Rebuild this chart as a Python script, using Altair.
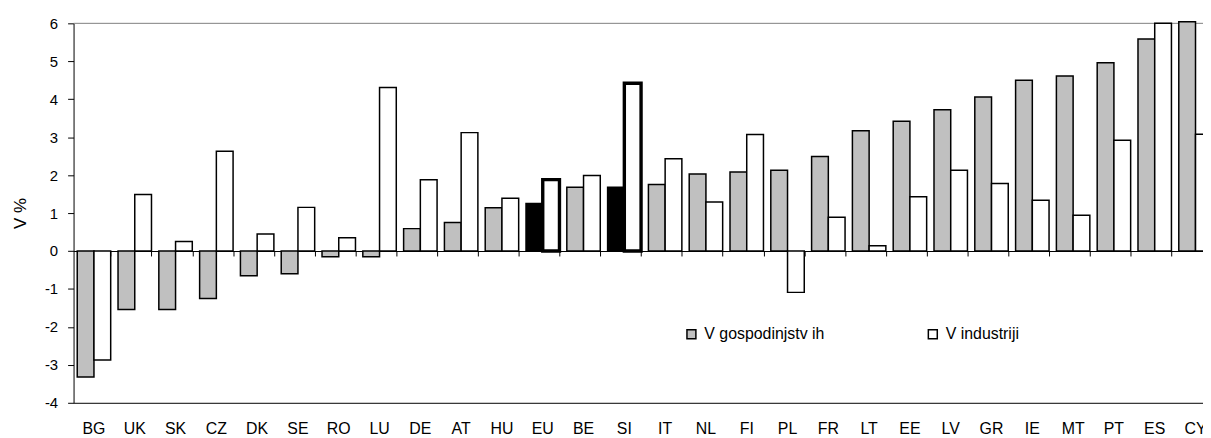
import altair as alt
import pandas as pd

countries = ["BG", "UK", "SK", "CZ", "DK", "SE", "RO", "LU", "DE", "AT", "HU", "EU", "BE", "SI",
             "IT", "NL", "FI", "PL", "FR", "LT", "EE", "LV", "GR", "IE", "MT", "PT", "ES", "CY"]
households = [-3.32, -1.54, -1.54, -1.25, -0.65, -0.60, -0.15, -0.15, 0.59, 0.75, 1.14, 1.25, 1.68, 1.68,
              1.75, 2.03, 2.08, 2.13, 2.49, 3.17, 3.42, 3.72, 4.06, 4.50, 4.61, 4.96, 5.59, 6.04]
industry = [-2.87, 1.49, 0.25, 2.63, 0.45, 1.15, 0.35, 4.31, 1.88, 3.12, 1.39, 1.88, 1.99, 4.42,
            2.43, 1.29, 3.07, -1.09, 0.89, 0.14, 1.43, 2.13, 1.78, 1.34, 0.94, 2.92, 6.00, 3.08]
series_names = ["V gospodinjstv ih", "V industriji"]
series_colors = ["#C0C0C0", "#FFFFFF"]
highlighted = ["EU", "SI"]
y_ticks = list(range(-4, 7))
y_domain = [-4, 6]

rows = []
for c, h, i in zip(countries, households, industry):
    rows.append({"country": c, "series": series_names[0], "value": h, "hl": c in highlighted})
    rows.append({"country": c, "series": series_names[1], "value": i, "hl": c in highlighted})
df = pd.DataFrame(rows)

FONT = "Liberation Sans"
PLOT_W = 1137
RANGE_W = 1150
PLOT_H = 382

xscale = alt.Scale(domain=countries, range=[0, RANGE_W], paddingInner=0.18, paddingOuter=0.09)
yscale = alt.Scale(domain=y_domain, nice=False)
yaxis = alt.Axis(values=y_ticks, title="V %", titlePadding=15, titleFontSize=17, labelPadding=10,
                 labelExpr="toString(datum.value)", labelOverlap=False,
                 tickSize=6, grid=False)

bars = alt.Chart(df).mark_bar(stroke="black", strokeJoin="miter").encode(
    x=alt.X("country:N", scale=xscale,
            axis=alt.Axis(orient="bottom", title=None, domain=True, ticks=False,
                          labelPadding=18, labelFontSize=16, labelAngle=0)),
    xOffset=alt.XOffset("series:N", scale=alt.Scale(domain=series_names)),
    y=alt.Y("value:Q", scale=yscale, axis=yaxis),
    fill=alt.condition(
        "datum.hl && datum.series == '" + series_names[0] + "'",
        alt.value("#000000"),
        alt.Fill("series:N", scale=alt.Scale(domain=series_names, range=series_colors),
                 legend=alt.Legend(orient="none", legendX=614, legendY=305, direction="horizontal",
                                   columns=2, columnPadding=101, title=None, symbolType="square",
                                   symbolSize=81, symbolStrokeColor="#000000", symbolStrokeWidth=1.5,
                                   labelFontSize=16, labelFont=FONT, labelColor="#000000",
                                   labelOffset=5)),
    ),
    strokeWidth=alt.condition(
        "datum.hl && datum.series == '" + series_names[1] + "'",
        alt.value(3.4),
        alt.value(1.5),
    ),
)

zero_axis = alt.Chart(df).mark_point(opacity=0).encode(
    x=alt.X("country:N", scale=xscale,
            axis=alt.Axis(orient="bottom", offset=-152.8, labels=False, title=None, domain=True,
                          ticks=True, tickBand="extent", tickSize=5)),
)

top_line = alt.Chart(pd.DataFrame({"k": [0]})).mark_rule(color="#808080", strokeWidth=1).encode(
    y=alt.Y(datum=y_domain[1], scale=yscale, axis=yaxis)
)

chart = alt.layer(top_line, zero_axis, bars).resolve_axis(x="independent").properties(
    width=PLOT_W,
    height=PLOT_H,
    autosize=alt.AutoSizeParams(type="none"),
    padding={"left": 66, "top": 14, "right": 0, "bottom": 34},
    background="#FFFFFF",
).configure_view(stroke=None).configure_axis(
    labelFont=FONT, labelColor="#000000", titleFont=FONT, titleColor="#000000",
    titleFontWeight="normal", domainColor="#000000", domainWidth=1, tickColor="#000000",
    tickWidth=1,
).configure_axisY(
    labelFontSize=15, titleFontSize=17,
).configure_axisX(
    labelFontSize=16,
)

chart.save("out.html", embed_options={"renderer": "svg", "actions": False})
